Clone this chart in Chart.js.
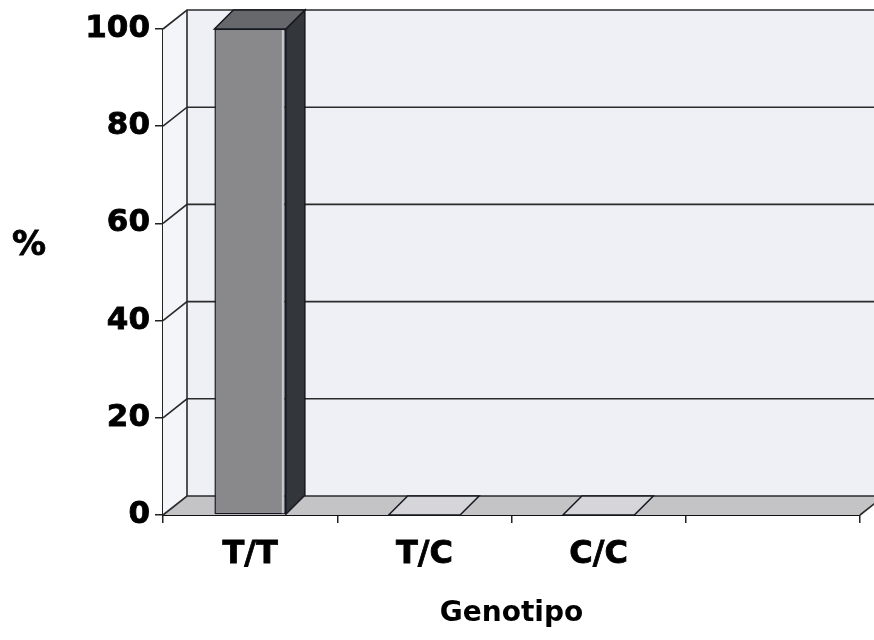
<!DOCTYPE html>
<html>
<head>
<meta charset="utf-8">
<script src="https://cdn.jsdelivr.net/npm/chart.js@4.4.1/dist/chart.umd.min.js"></script>
<style>
html,body{margin:0;padding:0;background:#fff;}
#wrap{width:874px;height:640px;position:relative;}
</style>
</head>
<body>
<div id="wrap"><canvas id="c" width="874" height="640"></canvas></div>
<script>
const categories = ['T/T', 'T/C', 'C/C', ''];
const percentValues = [100, 0, 0, null];
const yTickValues = [0, 20, 40, 60, 80, 100];
const yAxisLabel = '%';
const xAxisLabel = 'Genotipo';

const FONT = '"DejaVu Sans", Verdana, sans-serif';
const WALL = {dx: 24, dy: 19};
const BAR3D = {dx: 19, dy: 19};

const wallPlugin = {
  id: 'wall3d',
  beforeDatasetsDraw(chart) {
    const ctx = chart.ctx;
    const a = chart.chartArea;
    const y = chart.scales.y;
    const W = chart.width;
    ctx.save();
    // back wall
    ctx.fillStyle = '#eff0f6';
    ctx.fillRect(a.left + WALL.dx, a.top - WALL.dy, W - a.left - WALL.dx, a.bottom - a.top);
    // left wall
    ctx.fillStyle = '#f4f5f9';
    ctx.beginPath();
    ctx.moveTo(a.left, a.top);
    ctx.lineTo(a.left + WALL.dx, a.top - WALL.dy);
    ctx.lineTo(a.left + WALL.dx, a.bottom - WALL.dy);
    ctx.lineTo(a.left, a.bottom);
    ctx.closePath();
    ctx.fill();
    // floor
    ctx.fillStyle = '#c4c4c7';
    ctx.beginPath();
    ctx.moveTo(a.left, a.bottom);
    ctx.lineTo(a.left + WALL.dx, a.bottom - WALL.dy);
    ctx.lineTo(a.right + WALL.dx, a.bottom - WALL.dy);
    ctx.lineTo(a.right, a.bottom);
    ctx.closePath();
    ctx.fill();
    // gridlines on back wall + left wall diagonals
    ctx.strokeStyle = '#2a2a2a';
    ctx.lineWidth = 1.6;
    yTickValues.forEach(v => {
      const py = y.getPixelForValue(v);
      ctx.beginPath();
      ctx.moveTo(a.left, py);
      ctx.lineTo(a.left + WALL.dx, py - WALL.dy);
      ctx.lineTo(W, py - WALL.dy);
      ctx.stroke();
    });
    // back-left vertical edge
    ctx.beginPath();
    ctx.moveTo(a.left + WALL.dx, a.top - WALL.dy);
    ctx.lineTo(a.left + WALL.dx, a.bottom - WALL.dy);
    ctx.stroke();
    // floor right edge
    ctx.beginPath();
    ctx.moveTo(a.right, a.bottom);
    ctx.lineTo(a.right + WALL.dx, a.bottom - WALL.dy);
    ctx.stroke();
    ctx.restore();
  },
  afterDatasetsDraw(chart) {
    const ctx = chart.ctx;
    const meta = chart.getDatasetMeta(0);
    ctx.save();
    ctx.lineWidth = 1.5;
    ctx.strokeStyle = '#151820';
    meta.data.forEach((bar, i) => {
      if (percentValues[i] === null) return;
      const p = bar.getProps(['x', 'y', 'base', 'width'], true);
      const l = p.x - p.width / 2, r = p.x + p.width / 2;
      const top = p.y, base = p.base;
      if (base - top > 0.5) {
        // highlight strip on front face
        ctx.fillStyle = '#c9cbd0';
        ctx.fillRect(r - 4, top + 1, 2, base - top - 2);
        // side
        ctx.fillStyle = '#33363b';
        ctx.beginPath();
        ctx.moveTo(r, top);
        ctx.lineTo(r + BAR3D.dx, top - BAR3D.dy);
        ctx.lineTo(r + BAR3D.dx, base - BAR3D.dy);
        ctx.lineTo(r, base);
        ctx.closePath();
        ctx.fill();
        ctx.stroke();
      }
      // top face
      ctx.fillStyle = base - top > 0.5 ? '#66686c' : '#d6d6da';
      ctx.beginPath();
      ctx.moveTo(l, top);
      ctx.lineTo(l + BAR3D.dx, top - BAR3D.dy);
      ctx.lineTo(r + BAR3D.dx, top - BAR3D.dy);
      ctx.lineTo(r, top);
      ctx.closePath();
      ctx.fill();
      ctx.stroke();
    });
    ctx.restore();
  },
  afterDraw(chart) {
    const ctx = chart.ctx;
    ctx.save();
    ctx.fillStyle = '#000';
    ctx.strokeStyle = '#000';
    ctx.lineWidth = 0.8;
    ctx.font = 'bold 34px ' + FONT;
    ctx.textAlign = 'center';
    ctx.textBaseline = 'middle';
    ctx.fillText(yAxisLabel, 29, 246);
    ctx.strokeText(yAxisLabel, 29, 246);
    ctx.restore();
  }
};

new Chart(document.getElementById('c'), {
  type: 'bar',
  data: {
    labels: categories,
    datasets: [{
      data: percentValues,
      backgroundColor: '#89898c',
      borderColor: '#151820',
      borderWidth: 1.5,
      borderSkipped: false,
      categoryPercentage: 1.0,
      barPercentage: 0.41
    }]
  },
  options: {
    responsive: false,
    animation: false,
    events: [],
    layout: {padding: {top: 29, right: 14, bottom: 9, left: 0}},
    plugins: {legend: {display: false}, tooltip: {enabled: false}},
    scales: {
      x: {
        afterFit(s) { s.height = 116; },
        grid: {drawOnChartArea: false, tickLength: 8, color: '#222', lineWidth: 1.5},
        border: {display: true, color: '#111', width: 2},
        ticks: {color: '#000', padding: 12, textStrokeColor: '#000', textStrokeWidth: 0.8, font: {family: FONT, weight: 'bold', size: 32}},
        title: {display: true, text: xAxisLabel, color: '#000', padding: {top: 18, bottom: 0}, font: {family: FONT, weight: 'bold', size: 28}}
      },
      y: {
        min: 0, max: 100,
        afterFit(s) { s.width = 163; },
        grid: {drawOnChartArea: false, tickLength: 8, color: '#222', lineWidth: 1.5},
        border: {display: true, color: '#222', width: 1.5},
        ticks: {stepSize: 20, color: '#000', padding: 5, textStrokeColor: '#000', textStrokeWidth: 0.8, font: {family: FONT, weight: 'bold', size: 31}}
      }
    }
  },
  plugins: [wallPlugin]
});
</script>
</body>
</html>
